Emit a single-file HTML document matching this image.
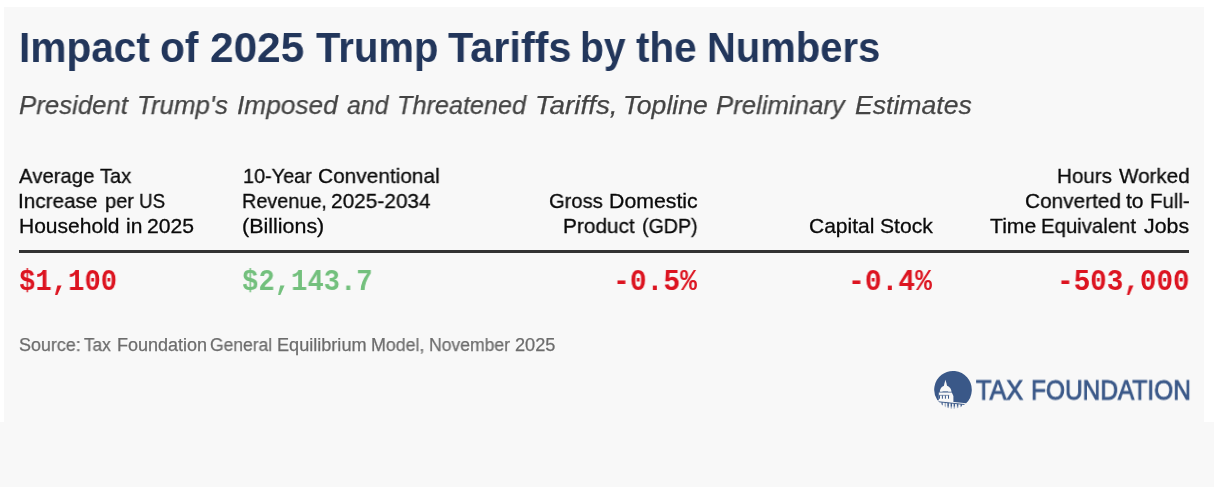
<!DOCTYPE html>
<html>
<head>
<meta charset="utf-8">
<style>
html,body{margin:0;padding:0;background:#fff;}
body{width:1214px;height:487px;position:relative;overflow:hidden;font-family:"Liberation Sans",sans-serif;}
#card{position:absolute;left:4px;top:7px;width:1200px;height:415px;background:#f8f8f8;}
#band{position:absolute;left:0;top:422px;width:1214px;height:65px;background:#f8f8f8;}
.w{position:absolute;white-space:nowrap;margin:0;padding:0;line-height:1;transform-origin:0 0;will-change:transform;}
#rule{position:absolute;left:19px;top:250px;width:1170px;height:3px;background:#333;}
</style>
</head>
<body>
<div id="card"></div>
<div id="band"></div>
<div id="rule"></div>
<div class="w" style="left:18.77px;top:26.00px;font-family:'Liberation Sans',sans-serif;font-size:43px;font-weight:bold;font-style:normal;color:#22365b;transform:scaleX(0.9444);">Impact</div>
<div class="w" style="left:160.25px;top:26.00px;font-family:'Liberation Sans',sans-serif;font-size:43px;font-weight:bold;font-style:normal;color:#22365b;transform:scaleX(0.9450);">of</div>
<div class="w" style="left:210.41px;top:26.00px;font-family:'Liberation Sans',sans-serif;font-size:43px;font-weight:bold;font-style:normal;color:#22365b;transform:scaleX(0.9851);">2025</div>
<div class="w" style="left:316.10px;top:26.00px;font-family:'Liberation Sans',sans-serif;font-size:43px;font-weight:bold;font-style:normal;color:#22365b;transform:scaleX(0.9308);">Trump</div>
<div class="w" style="left:448.30px;top:26.00px;font-family:'Liberation Sans',sans-serif;font-size:43px;font-weight:bold;font-style:normal;color:#22365b;transform:scaleX(0.9630);">Tariffs</div>
<div class="w" style="left:580.47px;top:26.00px;font-family:'Liberation Sans',sans-serif;font-size:43px;font-weight:bold;font-style:normal;color:#22365b;transform:scaleX(0.9085);">by</div>
<div class="w" style="left:635.90px;top:26.00px;font-family:'Liberation Sans',sans-serif;font-size:43px;font-weight:bold;font-style:normal;color:#22365b;transform:scaleX(0.9413);">the</div>
<div class="w" style="left:706.91px;top:26.00px;font-family:'Liberation Sans',sans-serif;font-size:43px;font-weight:bold;font-style:normal;color:#22365b;transform:scaleX(0.9297);">Numbers</div>
<div class="w" style="left:19.03px;top:92.00px;font-family:'Liberation Sans',sans-serif;font-size:26.5px;font-weight:normal;font-style:italic;color:#444444;-webkit-text-stroke:0.25px #444444;transform:scaleX(0.9741);">President</div>
<div class="w" style="left:137.24px;top:92.00px;font-family:'Liberation Sans',sans-serif;font-size:26.5px;font-weight:normal;font-style:italic;color:#444444;-webkit-text-stroke:0.25px #444444;transform:scaleX(0.9780);">Trump&#x27;s</div>
<div class="w" style="left:236.61px;top:92.00px;font-family:'Liberation Sans',sans-serif;font-size:26.5px;font-weight:normal;font-style:italic;color:#444444;-webkit-text-stroke:0.25px #444444;transform:scaleX(0.9902);">Imposed</div>
<div class="w" style="left:347.30px;top:92.00px;font-family:'Liberation Sans',sans-serif;font-size:26.5px;font-weight:normal;font-style:italic;color:#444444;-webkit-text-stroke:0.25px #444444;transform:scaleX(0.9378);">and</div>
<div class="w" style="left:396.79px;top:92.00px;font-family:'Liberation Sans',sans-serif;font-size:26.5px;font-weight:normal;font-style:italic;color:#444444;-webkit-text-stroke:0.25px #444444;transform:scaleX(0.9526);">Threatened</div>
<div class="w" style="left:535.00px;top:92.00px;font-family:'Liberation Sans',sans-serif;font-size:26.5px;font-weight:normal;font-style:italic;color:#444444;-webkit-text-stroke:0.25px #444444;transform:scaleX(1.0514);">Tariffs,</div>
<div class="w" style="left:623.39px;top:92.00px;font-family:'Liberation Sans',sans-serif;font-size:26.5px;font-weight:normal;font-style:italic;color:#444444;-webkit-text-stroke:0.25px #444444;transform:scaleX(1.0037);">Topline</div>
<div class="w" style="left:716.13px;top:92.00px;font-family:'Liberation Sans',sans-serif;font-size:26.5px;font-weight:normal;font-style:italic;color:#444444;-webkit-text-stroke:0.25px #444444;transform:scaleX(0.9714);">Preliminary</div>
<div class="w" style="left:855.00px;top:92.00px;font-family:'Liberation Sans',sans-serif;font-size:26.5px;font-weight:normal;font-style:italic;color:#444444;-webkit-text-stroke:0.25px #444444;transform:scaleX(1.0043);">Estimates</div>
<div class="w" style="left:19.20px;top:165.00px;font-family:'Liberation Sans',sans-serif;font-size:21px;font-weight:normal;font-style:normal;color:#0a0a0a;-webkit-text-stroke:0.3px #0a0a0a;transform:scaleX(0.9688);">Average</div>
<div class="w" style="left:100.30px;top:165.00px;font-family:'Liberation Sans',sans-serif;font-size:21px;font-weight:normal;font-style:normal;color:#0a0a0a;-webkit-text-stroke:0.3px #0a0a0a;transform:scaleX(0.9515);">Tax</div>
<div class="w" style="left:18.33px;top:190.00px;font-family:'Liberation Sans',sans-serif;font-size:21px;font-weight:normal;font-style:normal;color:#0a0a0a;-webkit-text-stroke:0.3px #0a0a0a;transform:scaleX(0.9872);">Increase</div>
<div class="w" style="left:104.54px;top:190.00px;font-family:'Liberation Sans',sans-serif;font-size:21px;font-weight:normal;font-style:normal;color:#0a0a0a;-webkit-text-stroke:0.3px #0a0a0a;transform:scaleX(0.9552);">per</div>
<div class="w" style="left:139.11px;top:190.00px;font-family:'Liberation Sans',sans-serif;font-size:21px;font-weight:normal;font-style:normal;color:#0a0a0a;-webkit-text-stroke:0.3px #0a0a0a;transform:scaleX(0.8929);">US</div>
<div class="w" style="left:19.30px;top:215.00px;font-family:'Liberation Sans',sans-serif;font-size:21px;font-weight:normal;font-style:normal;color:#0a0a0a;-webkit-text-stroke:0.3px #0a0a0a;transform:scaleX(1.0010);">Household</div>
<div class="w" style="left:125.60px;top:215.00px;font-family:'Liberation Sans',sans-serif;font-size:21px;font-weight:normal;font-style:normal;color:#0a0a0a;-webkit-text-stroke:0.3px #0a0a0a;transform:scaleX(1.0000);">in</div>
<div class="w" style="left:146.99px;top:215.00px;font-family:'Liberation Sans',sans-serif;font-size:21px;font-weight:normal;font-style:normal;color:#0a0a0a;-webkit-text-stroke:0.3px #0a0a0a;transform:scaleX(1.0067);">2025</div>
<div class="w" style="left:243.05px;top:165.00px;font-family:'Liberation Sans',sans-serif;font-size:21px;font-weight:normal;font-style:normal;color:#0a0a0a;-webkit-text-stroke:0.3px #0a0a0a;transform:scaleX(0.9458);">10-Year</div>
<div class="w" style="left:318.31px;top:165.00px;font-family:'Liberation Sans',sans-serif;font-size:21px;font-weight:normal;font-style:normal;color:#0a0a0a;-webkit-text-stroke:0.3px #0a0a0a;transform:scaleX(0.9926);">Conventional</div>
<div class="w" style="left:242.36px;top:190.00px;font-family:'Liberation Sans',sans-serif;font-size:21px;font-weight:normal;font-style:normal;color:#0a0a0a;-webkit-text-stroke:0.3px #0a0a0a;transform:scaleX(0.9448);">Revenue,</div>
<div class="w" style="left:331.01px;top:190.00px;font-family:'Liberation Sans',sans-serif;font-size:21px;font-weight:normal;font-style:normal;color:#0a0a0a;-webkit-text-stroke:0.3px #0a0a0a;transform:scaleX(0.9919);">2025-2034</div>
<div class="w" style="left:242.28px;top:215.00px;font-family:'Liberation Sans',sans-serif;font-size:21px;font-weight:normal;font-style:normal;color:#0a0a0a;-webkit-text-stroke:0.3px #0a0a0a;transform:scaleX(1.0215);">(Billions)</div>
<div class="w" style="left:548.54px;top:190.00px;font-family:'Liberation Sans',sans-serif;font-size:21px;font-weight:normal;font-style:normal;color:#0a0a0a;-webkit-text-stroke:0.3px #0a0a0a;transform:scaleX(0.9600);">Gross</div>
<div class="w" style="left:608.69px;top:190.00px;font-family:'Liberation Sans',sans-serif;font-size:21px;font-weight:normal;font-style:normal;color:#0a0a0a;-webkit-text-stroke:0.3px #0a0a0a;transform:scaleX(1.0140);">Domestic</div>
<div class="w" style="left:563.31px;top:215.00px;font-family:'Liberation Sans',sans-serif;font-size:21px;font-weight:normal;font-style:normal;color:#0a0a0a;-webkit-text-stroke:0.3px #0a0a0a;transform:scaleX(0.9917);">Product</div>
<div class="w" style="left:641.57px;top:215.00px;font-family:'Liberation Sans',sans-serif;font-size:21px;font-weight:normal;font-style:normal;color:#0a0a0a;-webkit-text-stroke:0.3px #0a0a0a;transform:scaleX(0.9345);">(GDP)</div>
<div class="w" style="left:809.40px;top:215.00px;font-family:'Liberation Sans',sans-serif;font-size:21px;font-weight:normal;font-style:normal;color:#0a0a0a;-webkit-text-stroke:0.3px #0a0a0a;transform:scaleX(1.0000);">Capital</div>
<div class="w" style="left:879.59px;top:215.00px;font-family:'Liberation Sans',sans-serif;font-size:21px;font-weight:normal;font-style:normal;color:#0a0a0a;-webkit-text-stroke:0.3px #0a0a0a;transform:scaleX(1.0058);">Stock</div>
<div class="w" style="left:1056.72px;top:165.00px;font-family:'Liberation Sans',sans-serif;font-size:21px;font-weight:normal;font-style:normal;color:#0a0a0a;-webkit-text-stroke:0.3px #0a0a0a;transform:scaleX(0.9818);">Hours</div>
<div class="w" style="left:1118.80px;top:165.00px;font-family:'Liberation Sans',sans-serif;font-size:21px;font-weight:normal;font-style:normal;color:#0a0a0a;-webkit-text-stroke:0.3px #0a0a0a;transform:scaleX(0.9831);">Worked</div>
<div class="w" style="left:1024.81px;top:190.00px;font-family:'Liberation Sans',sans-serif;font-size:21px;font-weight:normal;font-style:normal;color:#0a0a0a;-webkit-text-stroke:0.3px #0a0a0a;transform:scaleX(0.9905);">Converted</div>
<div class="w" style="left:1126.40px;top:190.00px;font-family:'Liberation Sans',sans-serif;font-size:21px;font-weight:normal;font-style:normal;color:#0a0a0a;-webkit-text-stroke:0.3px #0a0a0a;transform:scaleX(1.0059);">to</div>
<div class="w" style="left:1150.13px;top:190.00px;font-family:'Liberation Sans',sans-serif;font-size:21px;font-weight:normal;font-style:normal;color:#0a0a0a;-webkit-text-stroke:0.3px #0a0a0a;transform:scaleX(0.9744);">Full-</div>
<div class="w" style="left:989.90px;top:215.00px;font-family:'Liberation Sans',sans-serif;font-size:21px;font-weight:normal;font-style:normal;color:#0a0a0a;-webkit-text-stroke:0.3px #0a0a0a;transform:scaleX(1.0089);">Time</div>
<div class="w" style="left:1041.33px;top:215.00px;font-family:'Liberation Sans',sans-serif;font-size:21px;font-weight:normal;font-style:normal;color:#0a0a0a;-webkit-text-stroke:0.3px #0a0a0a;transform:scaleX(0.9691);">Equivalent</div>
<div class="w" style="left:1143.50px;top:215.00px;font-family:'Liberation Sans',sans-serif;font-size:21px;font-weight:normal;font-style:normal;color:#0a0a0a;-webkit-text-stroke:0.3px #0a0a0a;transform:scaleX(1.0159);">Jobs</div>
<div class="w" style="left:18.95px;top:269.00px;font-family:'Liberation Mono',monospace;font-size:28.6px;font-weight:bold;font-style:normal;color:#dc1420;transform:scaleX(0.9525);">$1,100</div>
<div class="w" style="left:242.35px;top:269.00px;font-family:'Liberation Mono',monospace;font-size:28.6px;font-weight:bold;font-style:normal;color:#73c07d;transform:scaleX(0.9519);">$2,143.7</div>
<div class="w" style="left:613.39px;top:269.00px;font-family:'Liberation Mono',monospace;font-size:28.6px;font-weight:bold;font-style:normal;color:#dc1420;transform:scaleX(0.9768);">-0.5%</div>
<div class="w" style="left:848.19px;top:269.00px;font-family:'Liberation Mono',monospace;font-size:28.6px;font-weight:bold;font-style:normal;color:#dc1420;transform:scaleX(0.9768);">-0.4%</div>
<div class="w" style="left:1056.84px;top:269.00px;font-family:'Liberation Mono',monospace;font-size:28.6px;font-weight:bold;font-style:normal;color:#dc1420;transform:scaleX(0.9659);">-503,000</div>
<div class="w" style="left:18.61px;top:336.00px;font-family:'Liberation Sans',sans-serif;font-size:18px;font-weight:normal;font-style:normal;color:#6c6c6c;-webkit-text-stroke:0.25px #6c6c6c;transform:scaleX(0.9950);">Source:</div>
<div class="w" style="left:84.10px;top:336.00px;font-family:'Liberation Sans',sans-serif;font-size:18px;font-weight:normal;font-style:normal;color:#6c6c6c;-webkit-text-stroke:0.25px #6c6c6c;transform:scaleX(0.9536);">Tax</div>
<div class="w" style="left:116.50px;top:336.00px;font-family:'Liberation Sans',sans-serif;font-size:18px;font-weight:normal;font-style:normal;color:#6c6c6c;-webkit-text-stroke:0.25px #6c6c6c;transform:scaleX(0.9989);">Foundation</div>
<div class="w" style="left:210.43px;top:336.00px;font-family:'Liberation Sans',sans-serif;font-size:18px;font-weight:normal;font-style:normal;color:#6c6c6c;-webkit-text-stroke:0.25px #6c6c6c;transform:scaleX(0.9710);">General</div>
<div class="w" style="left:276.59px;top:336.00px;font-family:'Liberation Sans',sans-serif;font-size:18px;font-weight:normal;font-style:normal;color:#6c6c6c;-webkit-text-stroke:0.25px #6c6c6c;transform:scaleX(1.0057);">Equilibrium</div>
<div class="w" style="left:370.51px;top:336.00px;font-family:'Liberation Sans',sans-serif;font-size:18px;font-weight:normal;font-style:normal;color:#6c6c6c;-webkit-text-stroke:0.25px #6c6c6c;transform:scaleX(0.9885);">Model,</div>
<div class="w" style="left:428.62px;top:336.00px;font-family:'Liberation Sans',sans-serif;font-size:18px;font-weight:normal;font-style:normal;color:#6c6c6c;-webkit-text-stroke:0.25px #6c6c6c;transform:scaleX(0.9756);">November</div>
<div class="w" style="left:515.09px;top:336.00px;font-family:'Liberation Sans',sans-serif;font-size:18px;font-weight:normal;font-style:normal;color:#6c6c6c;-webkit-text-stroke:0.25px #6c6c6c;transform:scaleX(1.0103);">2025</div>
<div class="w" style="left:976.10px;top:376.00px;font-family:'Liberation Sans',sans-serif;font-size:27.5px;font-weight:normal;font-style:normal;color:#3a5888;-webkit-text-stroke:0.9px #3a5888;transform:translateY(0.5px) scaleX(0.9176);">TAX</div>
<div class="w" style="left:1030.72px;top:376.00px;font-family:'Liberation Sans',sans-serif;font-size:27.5px;font-weight:normal;font-style:normal;color:#3a5888;-webkit-text-stroke:0.9px #3a5888;transform:translateY(0.5px) scaleX(0.8892);">FOUNDATION</div>
<svg id="logo" style="position:absolute;left:932px;top:369px;" width="42" height="42" viewBox="0 0 42 42">
<defs><clipPath id="lc"><circle cx="21.0" cy="20.8" r="18.8"/></clipPath>
<linearGradient id="lg" x1="0" y1="0" x2="0" y2="1"><stop offset="0" stop-color="#f8f8f8" stop-opacity="0"/><stop offset="1" stop-color="#f8f8f8" stop-opacity="1"/></linearGradient></defs>
<path d="M5.41 31.31 A18.8 18.8 0 1 1 34.06 34.32 Z" fill="#3a5888"/>
<g fill="#f8f8f8">
<path d="M13.4 10.8 L14.5 14.6 L15.1 17.2 L11.8 17.2 L12.4 14.6 Z"/>
<path d="M7.8 22.7 C8.1 18.6 10.9 16.5 13.5 16.5 C16.4 16.5 19.0 18.8 19.5 22.7 Z"/>
<path d="M6.8 23.4 L19.8 23.4 L21.4 27 L21.4 33.4 L6.8 31.9 Z"/>
</g>
<g fill="#3a5888"><rect x="7.0" y="26.4" width="1.0" height="3.3"/><rect x="9.9" y="26.4" width="1.0" height="3.3"/><rect x="12.9" y="26.4" width="1.0" height="3.3"/><rect x="16.0" y="26.4" width="1.0" height="3.3"/><rect x="7.0" y="25.9" width="10.2" height="0.6"/><rect x="10.5" y="22.3" width="5.6" height="0.5" transform="rotate(-6 13 22.5)"/></g>
<g clip-path="url(#lc)">
<path d="M6.2 32.74 L33.4 35.60" stroke="#3a5888" stroke-width="0.95" fill="none"/>
<g fill="#3a5888"><rect x="9.4" y="33.13" width="1.45" height="8" opacity="0.8"/><rect x="12.6" y="33.47" width="1.45" height="8" opacity="0.45"/><rect x="15.4" y="33.76" width="1.45" height="8" opacity="1"/><rect x="18.6" y="34.10" width="1.45" height="8" opacity="0.95"/><rect x="21.6" y="34.41" width="1.45" height="8" opacity="0.95"/><rect x="24.9" y="34.76" width="1.45" height="8" opacity="0.9"/><rect x="28.5" y="35.14" width="1.45" height="8" opacity="0.9"/></g>
<rect x="0" y="36.6" width="42" height="3.6" fill="url(#lg)"/>
</g>
</svg>
</body>
</html>
